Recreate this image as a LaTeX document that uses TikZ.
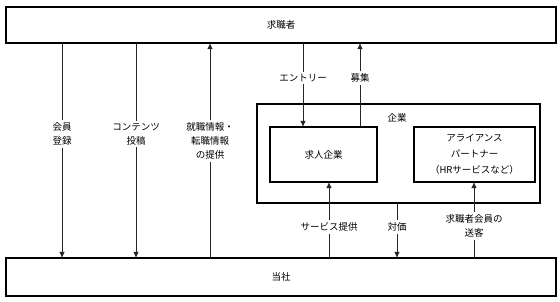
\documentclass[tikz,border=0pt]{standalone}
\usepackage{fontspec}
\setmainfont{Noto Sans CJK JP}
\usetikzlibrary{arrows.meta}
\begin{document}
\begin{tikzpicture}[x=1pt,y=-1pt,
  box/.style={draw, line width=1.3pt, inner sep=0pt, align=center, font=\fontsize{9.5}{16}\selectfont},
  lab/.style={align=center, inner sep=2pt, font=\fontsize{9.5}{14}\selectfont},
  conn/.style={line width=0.6pt, draw=black!85},
  arr/.style={conn, -{Triangle[length=5.5pt,width=5pt]}}]
\useasboundingbox (0,0) rectangle (560,301);
\node[box, minimum width=550pt, minimum height=36pt] (top) at (281,25) {求職者};
\node[box, minimum width=550pt, minimum height=38pt] (bot) at (281,277) {当社};
\node[box, minimum width=283pt, minimum height=99pt] (kigyo) at (398.5,153.5) {};
\node[lab] (kl) at (397,118) {企業};
\node[box, minimum width=107pt, minimum height=55pt] (kyujin) at (323.5,154.5) {求人企業};
\node[box, minimum width=121pt, minimum height=55pt] (alli) at (474.5,154.5) {アライアンス\\パートナー\\（HRサービスなど）};
% labels
\node[lab] (l1) at (62,134) {会員\\登録};
\node[lab] (l2) at (136,134) {コンテンツ\\投稿};
\node[lab] (l3) at (210,141) {就職情報・\\転職情報\\の提供};
\node[lab] (l4) at (303,78) {エントリー};
\node[lab] (l5) at (360,78) {募集};
\node[lab] (l6) at (329,227) {サービス提供};
\node[lab] (l7) at (397,227) {対価};
\node[lab] (l8) at (474,226) {求職者会員の\\送客};
% connectors
\draw[conn] (top.south -| l1) -- (l1.north);
\draw[arr] (l1.south) -- (bot.north -| l1);
\draw[conn] (top.south -| l2) -- (l2.north);
\draw[arr] (l2.south) -- (bot.north -| l2);
\draw[conn] (bot.north -| l3) -- (l3.south);
\draw[arr] (l3.north) -- (top.south -| l3);
\draw[conn] (top.south -| l4) -- (l4.north);
\draw[arr] (l4.south) -- (kyujin.north -| l4);
\draw[conn] (kyujin.north -| l5) -- (l5.south);
\draw[arr] (l5.north) -- (top.south -| l5);
\draw[conn] (bot.north -| l6) -- (l6.south);
\draw[arr] (l6.north) -- (kyujin.south -| l6);
\draw[conn] (kigyo.south -| l7) -- (l7.north);
\draw[arr] (l7.south) -- (bot.north -| l7);
\draw[conn] (bot.north -| l8) -- (l8.south);
\draw[arr] (l8.north) -- (alli.south -| l8);
\end{tikzpicture}
\end{document}
